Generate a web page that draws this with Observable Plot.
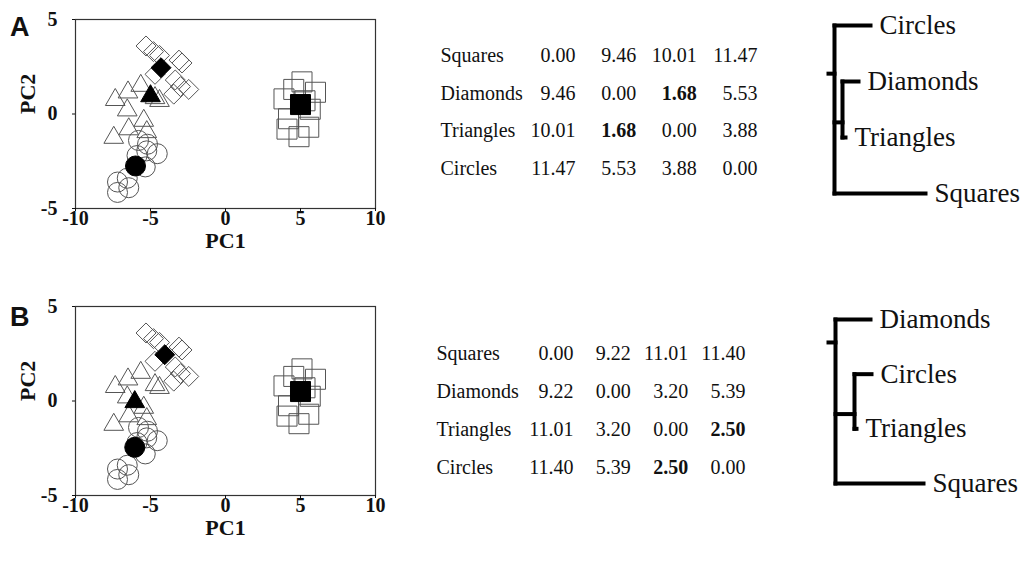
<!DOCTYPE html>
<html><head><meta charset="utf-8">
<script src="https://cdn.jsdelivr.net/npm/d3@7"></script>
<script src="https://cdn.jsdelivr.net/npm/@observablehq/plot@0.6"></script>
<style>
html,body{margin:0;padding:0;background:#fff;}
#root{position:relative;width:1022px;height:562px;overflow:hidden;background:#fff;}
.abs{position:absolute;}
.abs svg{overflow:visible;display:block;}
.letter{font-family:"Liberation Sans",Arial,sans-serif;font-weight:bold;font-size:27px;line-height:27px;color:#111;}
</style></head><body><div id="root"></div>
<script>
// ---------- data ----------
const groups = ["Squares","Diamonds","Triangles","Circles"];
// open markers (individual samples), [PC1, PC2]
const openSquares = [[5.1,1.7],[4.55,1.3],[6.0,1.15],[3.9,0.8],[5.3,0.7],[5.65,0.25],[4.2,-0.25],[5.55,-0.7],[4.1,-0.8],[4.9,-1.2]];
const openDiamonds = [[-5.3,3.6],[-4.8,3.3],[-4.4,3.1],[-3.1,2.85],[-2.9,2.7],[-4.7,2.1],[-3.35,1.8],[-3.0,1.45],[-3.45,1.05],[-2.45,1.3]];
const openTriangles = [[-7.35,0.75],[-6.5,1.15],[-5.65,1.5],[-4.7,0.85],[-4.4,0.7],[-6.55,0.2],[-5.45,-0.35],[-6.45,-0.8],[-5.25,-0.95],[-7.45,-1.25]];
const openCircles = [[-5.8,-1.4],[-5.2,-1.6],[-5.25,-1.95],[-4.55,-2.1],[-5.9,-2.2],[-5.35,-2.8],[-6.55,-3.4],[-7.2,-3.6],[-6.45,-3.9],[-7.2,-4.15]];
// group centroids (filled markers)
const centroidPC1_A = [5.0,-4.3,-5.0,-6.0];
const centroidPC2_A = [0.5,2.45,0.95,-2.75];
const centroidPC1_B = [5.0,-4.05,-6.05,-6.05];
const centroidPC2_B = [0.5,2.45,-0.05,-2.45];
const xTicks = [-10,-5,0,5,10];
const yTicks = [-5,0,5];

// distance tables
const tableRows = ["Squares","Diamonds","Triangles","Circles"];
const distA = [[0.00,9.46,10.01,11.47],[9.46,0.00,1.68,5.53],[10.01,1.68,0.00,3.88],[11.47,5.53,3.88,0.00]];
const boldA = [[1,2],[2,1]];
const distB = [[0.00,9.22,11.01,11.40],[9.22,0.00,3.20,5.39],[11.01,3.20,0.00,2.50],[11.40,5.39,2.50,0.00]];
const boldB = [[2,3],[3,2]];

// dendrograms: node name, parent, distance from root, vertical position (leaf order)
const dendA_name = ["root","main","inner","Circles","Diamonds","Triangles","Squares"];
const dendA_parent = [null,"root","main","main","inner","inner","main"];
const dendA_dist = [0,6,14,42,30,17,97];
const dendA_pos = [0.86,0.86,1.73,0,1,2,3];
const dendB_name = ["root","main","inner","Diamonds","Circles","Triangles","Squares"];
const dendB_parent = [null,"root","main","main","inner","inner","main"];
const dendB_dist = [0,7,26,42,43,28,95];
const dendB_pos = [0.42,0.42,1.73,0,1,2,3];

// ---------- helpers ----------
const root = document.getElementById("root");
function place(node, left, top){
  const d = document.createElement("div");
  d.className = "abs"; d.style.left = left+"px"; d.style.top = top+"px";
  d.appendChild(node); root.appendChild(d); return d;
}
const symbolOf = {Squares:"square", Diamonds:"diamond2", Triangles:"triangle", Circles:"circle"};
const radiusOf = {Squares:11.3, Diamonds:9.0, Triangles:7.3, Circles:10};
const openData = {Squares:openSquares, Diamonds:openDiamonds, Triangles:openTriangles, Circles:openCircles};

function scatter(c1, c2){
  const marks = [];
  for (const g of groups) {
    marks.push(Plot.dot(openData[g], {x:d=>d[0], y:d=>d[1], symbol:symbolOf[g], r:radiusOf[g], stroke:"#555", strokeWidth:1, fill:"none"}));
  }
  for (let i=0;i<groups.length;i++){
    const g = groups[i];
    marks.push(Plot.dot([{x:c1[i],y:c2[i]}], {x:"x", y:"y", symbol:symbolOf[g], r:radiusOf[g], fill:"#000", stroke:"#000", strokeWidth:1}));
  }
  marks.push(Plot.frame({stroke:"#333", strokeWidth:1.2}));
  marks.push(Plot.axisX({ticks:xTicks, tickSize:3, tickPadding:-1, tickFormat:d=>String(d), label:null}));
  marks.push(Plot.axisY({ticks:yTicks, tickSize:3, tickPadding:15, tickFormat:d=>String(d), label:null}));
  marks.push(Plot.text(["PC1"], {frameAnchor:"bottom", text:d=>d, dy:39, fontSize:22, fontWeight:"bold"}));
  marks.push(Plot.text(["PC2"], {frameAnchor:"left", text:d=>d, dx:-48, rotate:-90, fontSize:22, fontWeight:"bold"}));
  return Plot.plot({
    width:400, height:260, marginLeft:75, marginRight:25, marginTop:19, marginBottom:52,
    x:{domain:[-10,10]}, y:{domain:[-5,5]},
    style:{fontFamily:"'Liberation Serif','Times New Roman',serif", fontSize:"20px", fontWeight:"bold", color:"#111", background:"transparent"},
    marks
  });
}

function table(dist, bold, labelX, colRange, rowRange){
  const labels = tableRows.map((r,i)=>({r:i, t:r}));
  const cells = [];
  dist.forEach((row,i)=>row.forEach((v,j)=>cells.push({c:j+1, r:i, t:v.toFixed(2), b: bold.some(p=>p[0]===i&&p[1]===j)})));
  return Plot.plot({
    width:380, height:180, margin:0,
    x:{domain:[1,4], range:colRange, axis:null},
    y:{domain:[0,3], range:rowRange, axis:null},
    style:{fontFamily:"'Liberation Serif','Times New Roman',serif", fontSize:"20px", color:"#111", background:"transparent"},
    marks:[
      Plot.text(labels, {y:"r", text:"t", frameAnchor:"left", dx:labelX, textAnchor:"start"}),
      Plot.text(cells.filter(d=>!d.b), {x:"c", y:"r", text:"t", textAnchor:"end"}),
      Plot.text(cells.filter(d=>d.b), {x:"c", y:"r", text:"t", textAnchor:"end", fontWeight:"bold"})
    ]
  });
}

function dendro(names, parents, dist, pos, yRange){
  const idx = Object.fromEntries(names.map((n,i)=>[n,i]));
  const segs = [];
  names.forEach((n,i)=>{
    const p = parents[i];
    if (p !== null) segs.push({x1:dist[idx[p]], x2:dist[i], y1:pos[i], y2:pos[i]});
    const kids = names.map((m,k)=>k).filter(k=>parents[k]===n);
    if (kids.length > 1) {
      const ys = kids.map(k=>pos[k]);
      segs.push({x1:dist[i], x2:dist[i], y1:d3.min(ys), y2:d3.max(ys)});
    }
  });
  const leaves = names.map((n,i)=>({n, x:dist[i], y:pos[i]})).filter(d=>!parents.includes(d.n));
  return Plot.plot({
    width:232, height:230, margin:0,
    x:{domain:[0,100], range:[38,138], axis:null},
    y:{domain:[0,3], range:yRange, axis:null},
    style:{fontFamily:"'Liberation Serif','Times New Roman',serif", fontSize:"27px", color:"#111", background:"transparent"},
    marks:[
      Plot.link(segs, {x1:"x1", x2:"x2", y1:"y1", y2:"y2", stroke:"#000", strokeWidth:4, strokeLinecap:"square"}),
      Plot.text(leaves, {x:"x", y:"y", text:"n", textAnchor:"start", dx:9})
    ]
  });
}

// ---------- layout ----------
place(scatter(centroidPC1_A, centroidPC2_A), 0, 0);
place(scatter(centroidPC1_B, centroidPC2_B), 0, 287);
place(table(distA, boldA, 20, [155,337], [35,148]), 420, 20);
place(table(distB, boldB, 16, [153,325], [23,137]), 420, 330);
place(dendro(dendA_name, dendA_parent, dendA_dist, dendA_pos, [25,193]), 790, 0);
place(dendro(dendB_name, dendB_parent, dendB_dist, dendB_pos, [29,193]), 790, 290);

const la = document.createElement("div"); la.className="letter"; la.textContent="A"; place(la, 10, 14);
const lb = document.createElement("div"); lb.className="letter"; lb.textContent="B"; place(lb, 10, 304);
</script></body></html>
